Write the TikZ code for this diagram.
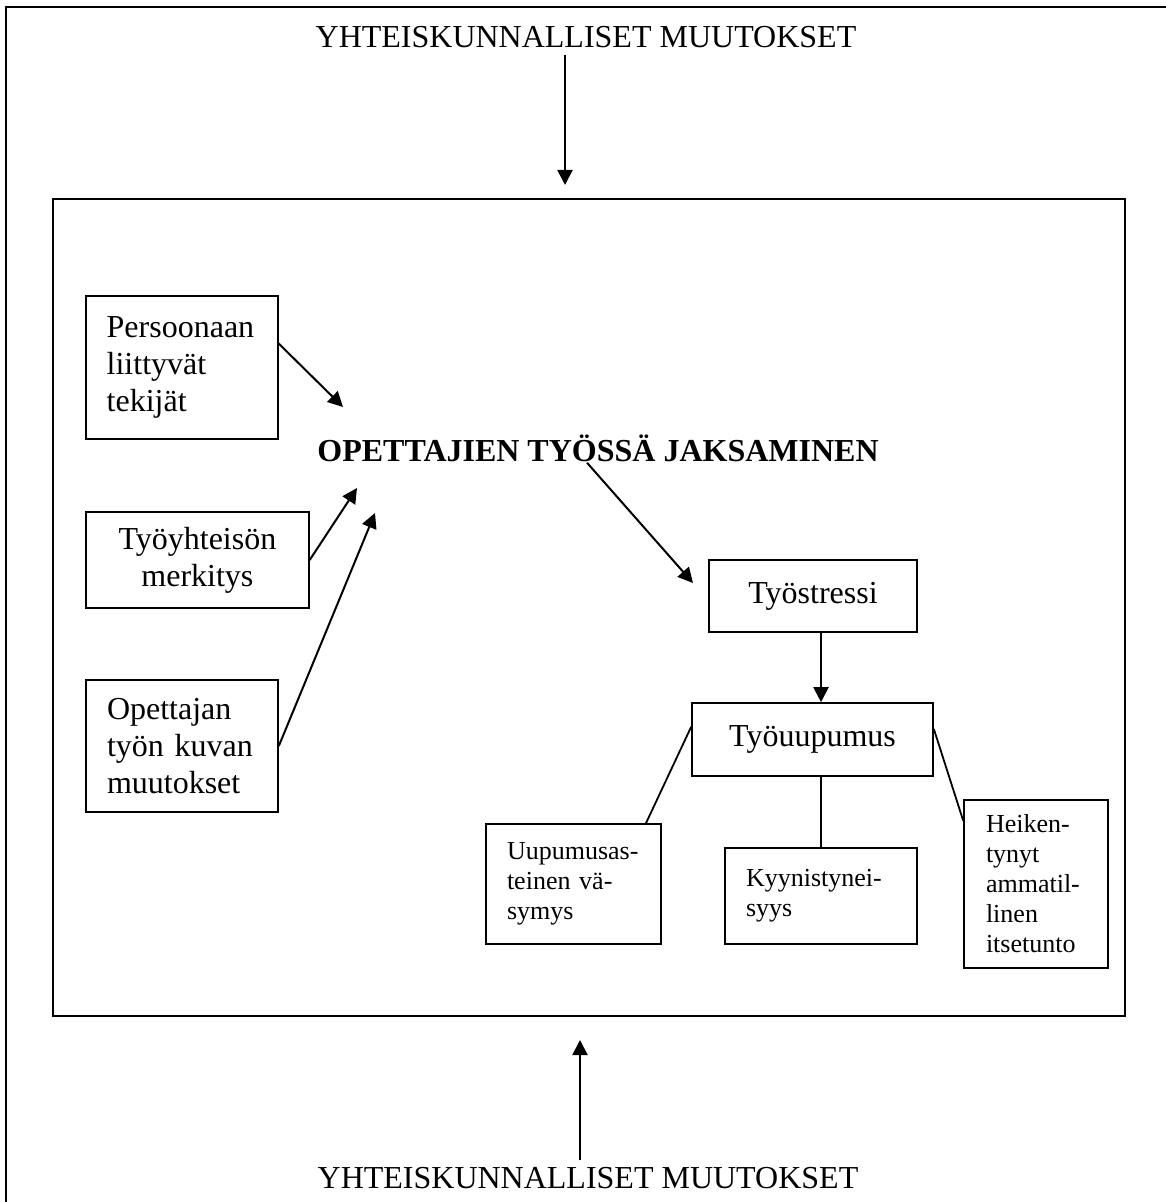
\documentclass[tikz,border=0pt]{standalone}
\usepackage{fontspec}
\setmainfont{Liberation Serif}
\usepackage{tikz}
\usetikzlibrary{arrows.meta,calc,positioning}

\tikzset{
  box/.style={draw,line width=0.8pt,inner xsep=10.5pt,inner ysep=0pt,align=left},
  small/.style={font=\fontsize{13}{15}\selectfont},
  label/.style={inner sep=3pt},
  arr/.style={line width=1pt,-{Triangle[length=7.5pt,width=7.5pt]}},
  link/.style={line width=0.9pt}
}

\begin{document}
\begin{tikzpicture}[x=0.5pt,y=-0.5pt,font=\fontsize{16}{18.5}\selectfont]
  \useasboundingbox (0,0) rectangle (1165,1202);
  \draw[line width=1pt] (6,1210) -- (6,7) -- (1170,7);
  \draw[line width=1pt] (53,199) rectangle (1125,1016);

  \node[label,anchor=base] (toptext) at (586,48) {YHTEISKUNNALLISET MUUTOKSET};
  \node[label,anchor=base] (bottext) at (588,1188) {YHTEISKUNNALLISET MUUTOKSET};
  \node[inner sep=0pt,anchor=base west,font=\fontsize{16}{18.5}\selectfont\bfseries] (title) at (317,462) {OPETTAJIEN TYÖSSÄ JAKSAMINEN};

  \node[box,text width=75pt,minimum height=71.5pt] (pers) at (181.7,367.5) {Persoonaan\\liittyvät\\tekijät};
  \node[box,align=center,minimum width=111.5pt,minimum height=48pt] (yht) at (197.4,560) {Työyhteisön\\merkitys};
  \node[box,text width=75pt,minimum height=66pt] (opet) at (182,746) {Opettajan\\työn kuvan\\muutokset};

  \node[box,align=center,minimum width=104pt,minimum height=36pt] (stress) at (813,596) {Työstressi};
  \node[box,align=center,minimum width=120.5pt,minimum height=36.5pt] (uupu) at (812.5,739.5) {Työuupumus};
  \node[box,small,text width=66.5pt,minimum height=60pt] (vasy) at (573.5,884) {Uupumusas-\\teinen vä-\\symys};
  \node[box,small,text width=75pt,minimum height=48pt] (kyyn) at (821,896) {Kyynistynei-\\syys};
  \node[box,small,inner xsep=11pt,text width=50pt,minimum height=84pt] (heik) at (1036,884) {Heiken-\\tynyt\\ammatil-\\linen\\itsetunto};

  \coordinate (topin) at (565,185);
  \coordinate (botin) at (580,1040);
  \coordinate (pin) at (343,407);
  \coordinate (yin) at (357,488);
  \coordinate (oin) at (375,513);
  \coordinate (tout) at (587,467);
  \coordinate (sin) at (693,583);

  \draw[arr] (toptext.south -| topin) -- (topin);
  \draw[arr] (bottext.north -| botin) -- (botin);
  \draw[arr] (pers.14) -- (pin);
  \draw[arr] (yht.east) -- (yin);
  \draw[arr] (opet.east) -- (oin);
  \draw[arr] (title.south -| tout) -- (sin);
  \draw[arr] (stress.south -| kyyn.north) -- (uupu.north -| kyyn.north);
  \draw[link] (uupu.174.5) -- (vasy.40);
  \draw[link] (uupu.south -| kyyn.north) -- (kyyn.north);
  \draw[link] (uupu.5.5) -- (heik.139.7);
\end{tikzpicture}
\end{document}
